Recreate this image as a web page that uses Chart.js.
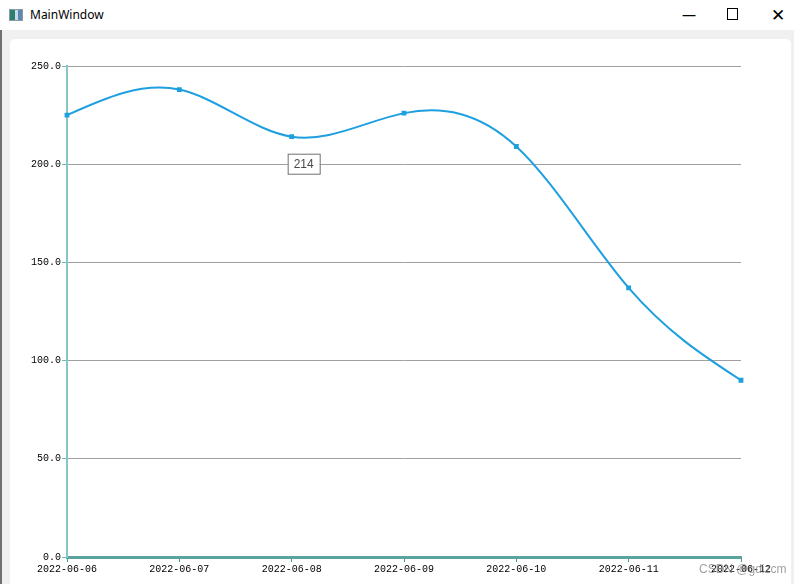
<!DOCTYPE html>
<html>
<head>
<meta charset="utf-8">
<script src="https://cdn.jsdelivr.net/npm/chart.js@4.4.0/dist/chart.umd.min.js"></script>
<style>
  body { margin: 0; width: 794px; height: 584px; background: #f0f0f0; overflow: hidden; position: relative; font-family: "Noto Sans", sans-serif; }
  #titlebar { position: absolute; left: 0; top: 0; width: 794px; height: 30px; background: #fff; }
  #title { position: absolute; left: 30px; top: 6px; font-size: 12px; color: #000; }
  #icon { position: absolute; left: 9px; top: 9px; width: 12px; height: 10px; border: 1px solid #8a9aa8; background: linear-gradient(90deg, #2f7f6f 0 40%, #c8d8e8 40% 70%, #5a8ab0 70%); }
  .ctl { position: absolute; top: 5px; font-size: 14px; color: #000; }
  #panel { position: absolute; left: 10px; top: 39px; width: 781px; height: 560px; background: #fff; border-radius: 5px; }
  #edge { position: absolute; left: 0; top: 30px; width: 2px; height: 554px; background: #707070; }
  #wrap { position: absolute; left: 0; top: 0; width: 794px; height: 584px; }
  #mark { position: absolute; left: 699px; top: 562px; font-size: 12px; color: rgba(120,120,120,0.7); font-family: Arial, sans-serif; }
</style>
</head>
<body>
<div id="titlebar">
  <div id="icon"></div>
  <div id="title">MainWindow</div>
  <div class="ctl" style="left:682px;">&#8212;</div>
  <div class="ctl" style="left:727px;top:8px;width:9px;height:10px;border:1px solid #000;"></div>
  <div class="ctl" style="left:771px;top:3px;font-size:17px;">&#10005;</div>
</div>
<div id="edge"></div>
<div id="panel"></div>
<div id="wrap"><canvas id="chart" width="794" height="584"></canvas></div>
<div id="mark">CSDN @gdizcm</div>
<script>
var dates = ["2022-06-06", "2022-06-07", "2022-06-08", "2022-06-09", "2022-06-10", "2022-06-11", "2022-06-12"];
var values = [225, 238, 214, 226, 209, 137, 90];
var yTicks = [0, 50, 100, 150, 200, 250];
var labelIndex = 2;

var tickFont = { family: "Liberation Mono", size: 10 };

// natural cubic spline through the points (pixel space), like the original control
var naturalSpline = {
  id: "naturalSpline",
  beforeDatasetsDraw: function(chart) {
    var meta = chart.getDatasetMeta(0);
    var line = meta.dataset;
    var pts = meta.data;
    var n = pts.length - 1;
    if (line.updateControlPoints) line.updateControlPoints(chart.chartArea, "x");
    var y = pts.map(function(p) { return p.y; });
    // second derivatives, per index step
    var M = new Array(n + 1).fill(0);
    var c = [], d = [];
    for (var i = 1; i < n; i++) {
      var rhs = 6 * (y[i + 1] - 2 * y[i] + y[i - 1]);
      var den = 4 - (i > 1 ? c[i - 1] : 0);
      c[i] = 1 / den;
      d[i] = (rhs - (i > 1 ? d[i - 1] : 0)) / den;
    }
    for (var j = n - 1; j >= 1; j--) M[j] = d[j] - c[j] * M[j + 1];
    for (var k = 0; k <= n; k++) {
      var s = k < n ? (y[k + 1] - y[k]) - (2 * M[k] + M[k + 1]) / 6
                    : (y[n] - y[n - 1]) + (M[n - 1] + 2 * M[n]) / 6;
      var hPrev = k > 0 ? pts[k].x - pts[k - 1].x : 0;
      var hNext = k < n ? pts[k + 1].x - pts[k].x : 0;
      pts[k].cp1x = pts[k].x - hPrev / 3;
      pts[k].cp1y = pts[k].y - s / 3;
      pts[k].cp2x = pts[k].x + hNext / 3;
      pts[k].cp2y = pts[k].y + s / 3;
    }
    line._pointsUpdated = true;
    line._path = undefined;
  }
};

// static value label below one point
var valueLabel = {
  id: "valueLabel",
  afterDatasetsDraw: function(chart) {
    var ctx = chart.ctx;
    var pt = chart.getDatasetMeta(0).data[labelIndex];
    var text = String(values[labelIndex]);
    ctx.save();
    ctx.font = "12px Arial";
    var w = ctx.measureText(text).width + 12;
    var x = pt.x - 4, y = pt.y + 17;
    ctx.fillStyle = "#fff";
    ctx.fillRect(x, y, w, 21);
    ctx.strokeStyle = "#707070";
    ctx.lineWidth = 1;
    ctx.strokeRect(x + 0.5, y + 0.5, w, 20);
    ctx.fillStyle = "#4a4a4a";
    ctx.textBaseline = "middle";
    ctx.fillText(text, x + 6, y + 11);
    ctx.restore();
  }
};

var chart = new Chart(document.getElementById("chart"), {
  type: "line",
  data: {
    labels: dates,
    datasets: [{
      data: values,
      borderColor: "#1ea0e0",
      backgroundColor: "#1ea0e0",
      borderWidth: 2,
      tension: 0.4,
      fill: false,
      pointStyle: "rect",
      pointRadius: 2,
      pointHoverRadius: 2
    }]
  },
  options: {
    responsive: false,
    animation: false,
    events: [],
    layout: { padding: { left: 0, right: 53, top: 66, bottom: 0 } },
    plugins: { legend: { display: false }, tooltip: { enabled: false } },
    scales: {
      x: {
        offset: false,
        grid: { drawOnChartArea: false, tickLength: 5, tickColor: "#3a9a94", tickWidth: 1 },
        border: { color: "#5aa39e", width: 3 },
        ticks: { font: tickFont, color: "#000", maxRotation: 0, autoSkip: false, padding: 1 },
        afterFit: function(s) { s.height = 27; }
      },
      y: {
        min: 0,
        max: 250,
        afterBuildTicks: function(s) { s.ticks = yTicks.map(function(v) { return { value: v }; }); },
        grid: { color: "#a0a0a0", tickLength: 5, tickColor: "#6fb8b8", lineWidth: 1 },
        border: { color: "#86c6c6", width: 2 },
        ticks: { font: tickFont, color: "#000", padding: 1, callback: function(v) { return v.toFixed(1); } },
        afterFit: function(s) { s.width = 67; }
      }
    }
  },
  plugins: [naturalSpline, valueLabel]
});
</script>
</body>
</html>
